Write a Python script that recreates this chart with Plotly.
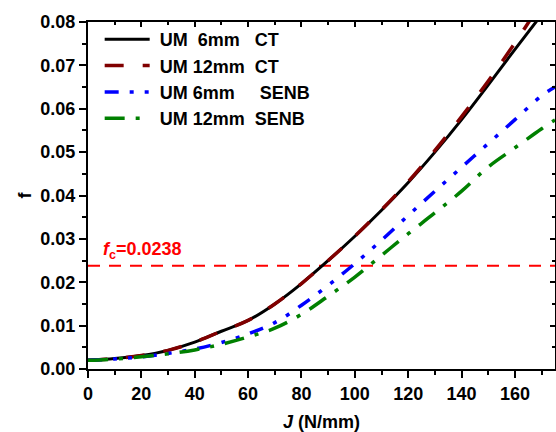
import plotly.graph_objects as go

# Data
J = [0, 10, 20, 30, 40, 50, 60, 70, 80, 90, 100, 110, 120, 130, 140, 150, 160, 170, 175]

um6_ct = [0.0020, 0.0024, 0.0031, 0.0043, 0.0062, 0.0087, 0.0112, 0.0150, 0.0197, 0.0250,
          0.0306, 0.0366, 0.0430, 0.0500, 0.0575, 0.0655, 0.0737, 0.0817, 0.0857]
um12_ct = [0.0020, 0.0024, 0.0031, 0.0043, 0.0062, 0.0087, 0.0112, 0.0150, 0.0197, 0.0250,
           0.0306, 0.0367, 0.0432, 0.0504, 0.0582, 0.0664, 0.0752, 0.0845, 0.0890]
um6_senb = [0.0020, 0.0023, 0.0028, 0.0036, 0.0046, 0.0061, 0.0081, 0.0107, 0.0147, 0.0193,
            0.0243, 0.0297, 0.0354, 0.0410, 0.0465, 0.0520, 0.0575, 0.0630, 0.0650]
um12_senb = [0.0020, 0.0023, 0.0028, 0.0035, 0.0044, 0.0057, 0.0074, 0.0094, 0.0126, 0.0168,
             0.0212, 0.0262, 0.0312, 0.0360, 0.0410, 0.0466, 0.0510, 0.0554, 0.0574]

f_c = 0.0238
x_range = [0, 175]
y_range = [0, 0.08]

NB = "\u00a0"
names = [f"{NB}UM{NB}{NB}6mm{NB}{NB}{NB}CT", f"{NB}UM{NB}12mm{NB}{NB}CT",
         f"{NB}UM{NB}6mm{NB}{NB}{NB}{NB}{NB}SENB", f"{NB}UM{NB}12mm{NB}{NB}SENB"]

FONT = "Liberation Sans, Arial, sans-serif"
FS = 18

fig = go.Figure()

fig.add_trace(go.Scatter(x=x_range, y=[f_c, f_c], mode="lines", showlegend=False,
                         line=dict(color="#ff0000", width=2, dash="12px,9px")))

styles = [
    dict(color="#000000", width=3, dash="solid"),
    dict(color="#800000", width=3.5, dash="19px,19px"),
    dict(color="#0000ff", width=3.5, dash="14px,11px,4px,11px,4px,11px"),
    dict(color="#008000", width=3.5, dash="20px,11px,4px,11px"),
]
series = [um6_ct, um12_ct, um6_senb, um12_senb]
for name, ys, st in zip(names, series, styles):
    fig.add_trace(go.Scatter(x=J, y=ys, mode="lines", name=name, line=st,
                             line_shape="spline"))

# dummy trace for mirrored (inside-tick) axes
fig.add_trace(go.Scatter(x=[None], y=[None], xaxis="x2", yaxis="y2", showlegend=False,
                         hoverinfo="skip"))

fig.add_annotation(x=5, y=f_c, xref="x", yref="y", xanchor="left", yanchor="bottom",
                   yshift=2, showarrow=False,
                   text="<i>f</i><sub>c</sub>=0.0238",
                   font=dict(family=FONT, size=FS, color="#ff0000", weight="bold"))

axis_common = dict(showline=True, linecolor="black", linewidth=2, showgrid=False,
                   zeroline=False, automargin=False)
fig.update_layout(
    width=556, height=432,
    margin=dict(l=88, r=1, t=22, b=63),
    paper_bgcolor="white", plot_bgcolor="white",
    font=dict(family=FONT, size=FS, color="black", weight="bold"),
    xaxis=dict(range=x_range, dtick=20, tick0=0, ticks="outside", ticklen=7, tickwidth=2,
               tickcolor="black",
               minor=dict(dtick=10, ticks="outside", ticklen=4, tickwidth=2, tickcolor="black"),
               tickfont=dict(family=FONT, size=FS, weight="bold"),
               title=dict(text="<i>J</i> (N/mm)", font=dict(family=FONT, size=FS, weight="bold"),
                          standoff=21),
               **axis_common),
    yaxis=dict(range=y_range, dtick=0.01, tick0=0, tickformat=".2f", ticks="outside",
               ticklen=7, tickwidth=2, tickcolor="black",
               minor=dict(dtick=0.005, ticks="outside", ticklen=4, tickwidth=2, tickcolor="black"),
               tickfont=dict(family=FONT, size=FS, weight="bold"),
               title=dict(text="f", font=dict(family=FONT, size=FS, weight="bold"), standoff=4),
               **axis_common),
    xaxis2=dict(range=x_range, overlaying="x", side="top", anchor="y2", dtick=20, tick0=0,
                ticks="inside", ticklen=5, tickwidth=1.5, tickcolor="black",
                minor=dict(dtick=10, ticks="inside", ticklen=3, tickwidth=1.5, tickcolor="black"),
                showticklabels=False, **axis_common),
    yaxis2=dict(range=y_range, overlaying="y", side="right", anchor="x2", dtick=0.01, tick0=0,
                ticks="inside", ticklen=5, tickwidth=1.5, tickcolor="black",
                minor=dict(dtick=0.005, ticks="inside", ticklen=3, tickwidth=1.5, tickcolor="black"),
                showticklabels=False, **axis_common),
    legend=dict(x=0.025, y=1.003, xanchor="left", yanchor="top", bgcolor="rgba(0,0,0,0)",
                itemwidth=45, tracegroupgap=0,
                font=dict(family=FONT, size=FS, color="black", weight="bold")),
    showlegend=True,
)

fig.write_html("out.html", config={"displayModeBar": False},
               post_script="document.body.style.margin='0px';")
